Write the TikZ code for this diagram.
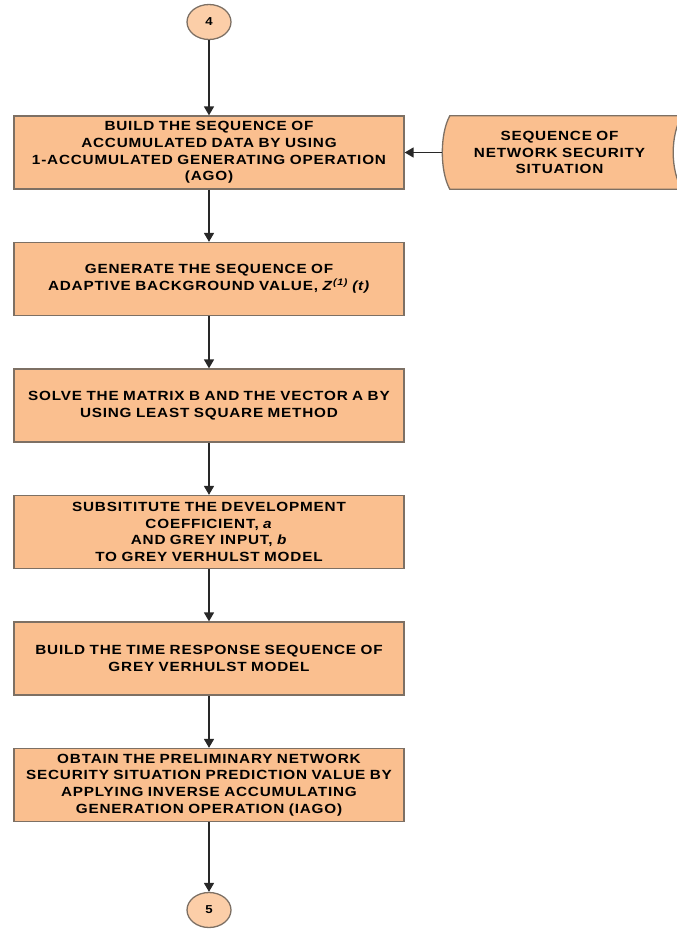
\documentclass[tikz,border=0pt]{standalone}
\usepackage{fontspec}
\setmainfont{Liberation Sans}[FakeStretch=1.15, LetterSpace=6]
\usetikzlibrary{positioning, arrows.meta, shapes.geometric, backgrounds}
\definecolor{peach}{RGB}{250,191,143}
\definecolor{peachlight}{RGB}{252,206,168}
\definecolor{boxline}{RGB}{125,112,100}
\definecolor{arrowgrey}{RGB}{40,40,40}
\tikzset {
    ->,
    >={Triangle[length=9pt, width=10pt]},
    node distance=126.5pt,
    every edge/.style={draw=arrowgrey, line width=1.6pt},
    process/.style={rectangle, draw=boxline, line width=1.3pt, fill=peach,
        minimum width=390pt, minimum height=73pt, text width=380pt, inner xsep=5pt,
        align=center, font=\fontsize{13.3}{16.6}\selectfont\bfseries},
    stored/.style={rectangle, minimum width=235pt, minimum height=73pt, text width=225pt,
        align=center, font=\fontsize{13.3}{16.6}\selectfont\bfseries},
    connector/.style={ellipse, draw=boxline, line width=1.3pt, fill=peachlight,
        minimum width=44pt, minimum height=35pt, inner sep=0pt,
        font=\fontsize{11.5}{13}\selectfont\bfseries}
}

\begin{document}
\begin{tikzpicture}
                            \useasboundingbox (0,0) rectangle (677pt,-929pt);

                            \node[connector] (c4) at (209pt,-22pt) {4};
                            \node[process, below of=c4, node distance=130.5pt] (b1) {BUILD THE SEQUENCE OF\\ACCUMULATED DATA BY USING\\1-ACCUMULATED GENERATING OPERATION\\(AGO)};
                            \node[stored, right of=b1, node distance=350.5pt] (seq) {SEQUENCE OF\\NETWORK SECURITY\\SITUATION};
                            \node[process, below of=b1] (b2) {GENERATE THE SEQUENCE OF\\ADAPTIVE BACKGROUND VALUE, \textit{Z}\textsuperscript{\itshape(1)} \textit{(t)}};
                            \node[process, below of=b2] (b3) {SOLVE THE MATRIX B AND THE VECTOR A BY\\USING LEAST SQUARE METHOD};
                            \node[process, below of=b3] (b4) {SUBSITITUTE THE DEVELOPMENT\\COEFFICIENT, \textit{a}\\AND GREY INPUT, \textit{b}\\TO GREY VERHULST MODEL};
                            \node[process, below of=b4] (b5) {BUILD THE TIME RESPONSE SEQUENCE OF\\GREY VERHULST MODEL};
                            \node[process, below of=b5] (b6) {OBTAIN THE PRELIMINARY NETWORK\\SECURITY SITUATION PREDICTION VALUE BY\\APPLYING INVERSE ACCUMULATING\\GENERATION OPERATION (IAGO)};
                            \node[connector, below of=b6, node distance=125pt] (c5) {5};

                            % stored data outline behind the text
                            \begin{scope}[on background layer]
                            \draw[-, draw=boxline, line width=1.3pt, fill=peach]
                            ([xshift=8pt]seq.north west) -- ([xshift=5pt]seq.north east)
                            .. controls ([xshift=-7pt, yshift=-18pt]seq.north east) and ([xshift=-7pt, yshift=18pt]seq.south east) .. ([xshift=5pt]seq.south east)
                            -- ([xshift=8pt]seq.south west)
                            .. controls ([xshift=-2pt, yshift=18pt]seq.south west) and ([xshift=-2pt, yshift=-18pt]seq.north west) .. cycle;
                            \end{scope}

                            \draw
                            (c4) edge (b1)
                            (seq) edge (b1)
                            (b1) edge (b2)
                            (b2) edge (b3)
                            (b3) edge (b4)
                            (b4) edge (b5)
                            (b5) edge (b6)
                            (b6) edge (c5);
                        \end{tikzpicture}
\end{document}
